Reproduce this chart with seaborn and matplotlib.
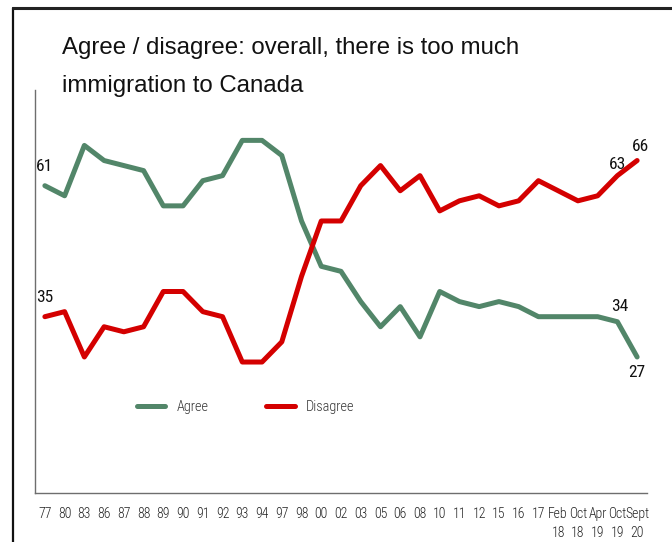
import matplotlib
matplotlib.use("Agg")
import matplotlib.pyplot as plt
from matplotlib.lines import Line2D
from matplotlib import font_manager
import seaborn as sns
import pandas as pd

periods = ["77", "80", "83", "86", "87", "88", "89", "90", "91", "92", "93", "94", "97",
           "98", "00", "02", "03", "05", "06", "08", "10", "11", "12", "15", "16", "17",
           "Feb\n18", "Oct\n18", "Apr\n19", "Oct\n19", "Sept\n20"]
agree = [61, 59, 69, 66, 65, 64, 57, 57, 62, 63, 70, 70, 67, 54, 45, 44, 38, 33, 37, 31,
         40, 38, 37, 38, 37, 35, 35, 35, 35, 34, 27]
disagree = [35, 36, 27, 33, 32, 33, 40, 40, 36, 35, 26, 26, 30, 43, 54, 54, 61, 65, 60, 63,
            56, 58, 59, 57, 58, 62, 60, 58, 59, 63, 66]
series_names = ["Agree", "Disagree"]
colors = ["#528669", "#d40000"]
title = "Agree / disagree: overall, there is too much\nimmigration to Canada"

sns.set_theme(style="white")

installed = {f.name for f in font_manager.fontManager.ttflist}
cond_candidates = ["Roboto Condensed", "Liberation Sans Narrow", "Open Sans Condensed",
                   "DejaVu Sans"]
narrow = [c for c in cond_candidates if c in installed][:1] + ["DejaVu Sans"]
stretch = "condensed"
plt.rcParams["font.family"] = narrow
plt.rcParams["font.stretch"] = stretch

n = len(periods)
df = pd.DataFrame({
    "idx": list(range(n)) * 2,
    "value": agree + disagree,
    "series": [series_names[0]] * n + [series_names[1]] * n,
})

fig = plt.figure(figsize=(6.72, 5.42), dpi=100)
ax = fig.add_axes([35 / 672, 49 / 542, 612 / 672, 403 / 542])
sns.lineplot(data=df, x="idx", y="value", hue="series", palette=colors,
             linewidth=3.6, ax=ax, legend=True)

ax.set_xlim(-0.5, n - 0.5)
ax.set_ylim(0, 80)
ax.set_xticks(range(n))
ax.set_xticklabels(periods, fontsize=9.9, color="#222222", linespacing=1.45,
                   fontstretch=stretch, fontweight="light")
ax.tick_params(axis="x", length=0, pad=10)
ax.set_yticks([])
ax.set_xlabel("")
ax.set_ylabel("")
for s in ["top", "right"]:
    ax.spines[s].set_visible(False)
for s in ["left", "bottom"]:
    ax.spines[s].set_color("#6e6e6e")
    ax.spines[s].set_linewidth(1.0)

lab_kw = dict(fontsize=12.5, color="#111111", fontstretch=stretch)
ax.text(0, agree[0] + 2.4, str(agree[0]), ha="center", va="bottom", **lab_kw)
ax.text(0, disagree[0] + 2.4, str(disagree[0]), ha="center", va="bottom", **lab_kw)
ax.text(29, disagree[29] + 0.8, str(disagree[29]), ha="center", va="bottom", **lab_kw)
ax.text(30.15, disagree[30] + 1.2, str(disagree[30]), ha="center", va="bottom", **lab_kw)
ax.text(29.1, agree[29] + 1.6, str(agree[29]), ha="center", va="bottom", **lab_kw)
ax.text(30.0, agree[30] - 1.6, str(agree[30]), ha="center", va="top", **lab_kw)

leg = ax.legend(loc="center left", bbox_to_anchor=(0.145, 0.213), ncol=2, frameon=False,
                handlelength=2.0, handletextpad=0.8, columnspacing=4.0,
                prop=dict(size=10.3, stretch=stretch, weight="light"))
for t in leg.get_texts():
    t.set_color("#333333")
for h in leg.get_lines():
    h.set_linewidth(3.6)

fig.text(62 / 672, 1 - 37 / 542, title, ha="left", va="top", fontsize=17.3,
         family=["Liberation Sans", "DejaVu Sans"], fontstretch="normal",
         color="#111111", linespacing=1.95)

fig.add_artist(Line2D([13 / 672, 13 / 672], [0, 1 - 8 / 542], transform=fig.transFigure,
                      color="#111111", linewidth=1.6))
fig.add_artist(Line2D([13 / 672, 1], [1 - 8 / 542, 1 - 8 / 542], transform=fig.transFigure,
                      color="#222222", linewidth=2.2))

fig.savefig("out.png", dpi=100)
